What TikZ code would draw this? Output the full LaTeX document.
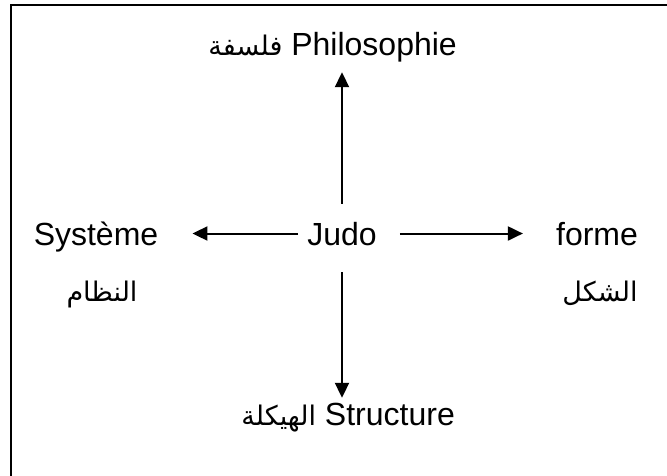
\documentclass[tikz,border=0pt]{standalone}
\usepackage{fontspec}
\setmainfont{Liberation Sans}
\newfontfamily\arabicfont[Script=Arabic]{DejaVu Sans}
\TeXXeTstate=1
\usetikzlibrary{arrows.meta}
\newcommand{\artext}[1]{{\arabicfont\fontsize{27}{32}\selectfont\beginR #1\endR}}

\begin{document}
\begin{tikzpicture}[
  x=1pt, y=-1pt,
  word/.style={inner sep=0pt, anchor=base, text height=23pt, text depth=0pt, font=\fontsize{32}{38}\selectfont},
  arabic/.style={inner sep=0pt, anchor=base},
  arr/.style={draw=black, line width=2pt, -{Triangle[length=15pt, width=14pt]}}
]
  \useasboundingbox (0,0) rectangle (667,475);
  \clip (0,0) rectangle (667,475);

  % frame, cut at the right and bottom
  \draw[line width=2pt] (11,4.6) rectangle (700,500);

  \node[word] (judo) at (342,245) {Judo};
  \node[word, anchor=base east] (philo) at (457,55) {\artext{فلسفة} Philosophie};
  \node[word] (sys) at (96,245) {Système};
  \node[word] (forme) at (597,245) {forme};
  \node[word, anchor=base east] (struct) at (455,425) {\artext{الهيكلة} Structure};

  \node[arabic] (sysar) at (102,301) {\artext{النظام}};
  \node[arabic] (formear) at (600,301) {\artext{الشكل}};

  % arrows out of Judo
  \draw[arr, shorten <=18pt, shorten >=17pt] (judo.north) -- (judo.north |- philo.south);
  \draw[arr, shorten <=27pt, shorten >=4pt] (judo.south) -- (judo.south |- struct.north);
  \draw[arr, shorten <=9pt, shorten >=34pt] (judo.west) -- (sys.east);
  \draw[arr, shorten <=23pt, shorten >=33pt] (judo.east) -- (forme.west);
\end{tikzpicture}
\end{document}
